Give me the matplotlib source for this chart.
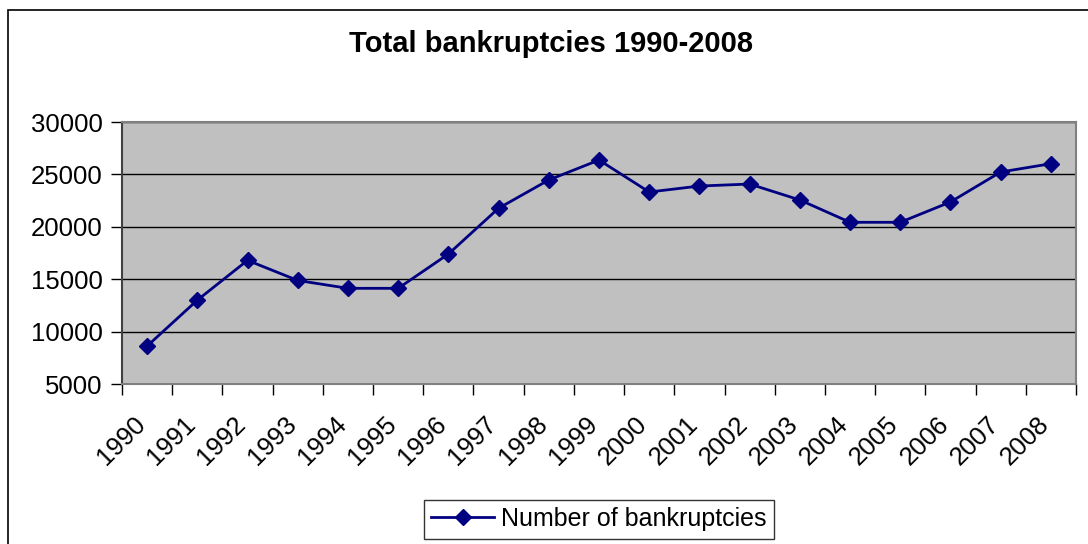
import matplotlib.pyplot as plt
import matplotlib.transforms as mtransforms
import numpy as np
from matplotlib.patches import Rectangle

# Data
years = [str(y) for y in range(1990, 2009)]
bankruptcies = [8620, 13000, 16800, 14880, 14130, 14130, 17400, 21770,
                24470, 26370, 23320, 23890, 24080, 22560, 20430, 20430,
                22370, 25230, 26020]
yticks = [5000, 10000, 15000, 20000, 25000, 30000]

plt.rcParams['font.family'] = ['Liberation Sans', 'DejaVu Sans']

fig = plt.figure(figsize=(10.88, 5.44), dpi=100)
ax = fig.add_axes([122 / 1088, 1 - 384 / 544, (1076 - 122) / 1088, (384 - 122) / 544])

# outer chart border (cropped at right and bottom like the reference)
fig.patches.append(Rectangle((8 / 1088, -0.1), 1.2, 1 - 10 / 544 + 0.1,
                             transform=fig.transFigure, fill=False,
                             edgecolor='black', linewidth=1.2))

x = np.arange(len(years))
ax.plot(x, bankruptcies, color='#000080', linewidth=2, marker='D',
        markersize=8.5, label='Number of bankruptcies')

ax.set_facecolor('#C0C0C0')
ax.set_xlim(-0.5, len(years) - 0.5)
ax.set_ylim(5000, 30000)
ax.set_yticks(yticks)
ax.set_yticklabels([str(v) for v in yticks], fontsize=18.5)
ax.grid(axis='y', color='black', linewidth=1)
ax.set_axisbelow(True)

ax.set_xticks(x)
ax.set_xticklabels(years, fontsize=18.5, rotation=45, ha='right',
                   rotation_mode='anchor')
ax.set_xticks(np.arange(-0.5, len(years)), minor=True)
ax.tick_params(axis='x', which='major', length=0, pad=20)
ax.tick_params(axis='x', which='minor', length=8, color='black', width=1)
ax.tick_params(axis='y', length=8, color='black', width=1, pad=6)

# shift the rotated year labels a little to the left, as in the reference
shift = mtransforms.ScaledTranslation(-14 / 100, 0, fig.dpi_scale_trans)
for lbl in ax.get_xticklabels():
    lbl.set_transform(lbl.get_transform() + shift)

for side in ['top', 'right', 'bottom']:
    ax.spines[side].set_color('#808080')
    ax.spines[side].set_linewidth(1.5)
ax.spines['left'].set_color('#404040')
ax.spines['left'].set_linewidth(1.5)

fig.text(551 / 1088, 1 - 44 / 544, 'Total bankruptcies 1990-2008',
         fontsize=21, fontweight='bold', ha='center', va='center')

leg = ax.legend(loc='center', bbox_to_anchor=(599 / 1088, 1 - 519 / 544),
                bbox_transform=fig.transFigure, fontsize=18, frameon=True,
                fancybox=False, edgecolor='black', handlelength=2.5,
                borderpad=0.3, handletextpad=0.3)
leg.get_frame().set_linewidth(1)

fig.savefig('out.png', dpi=100)
